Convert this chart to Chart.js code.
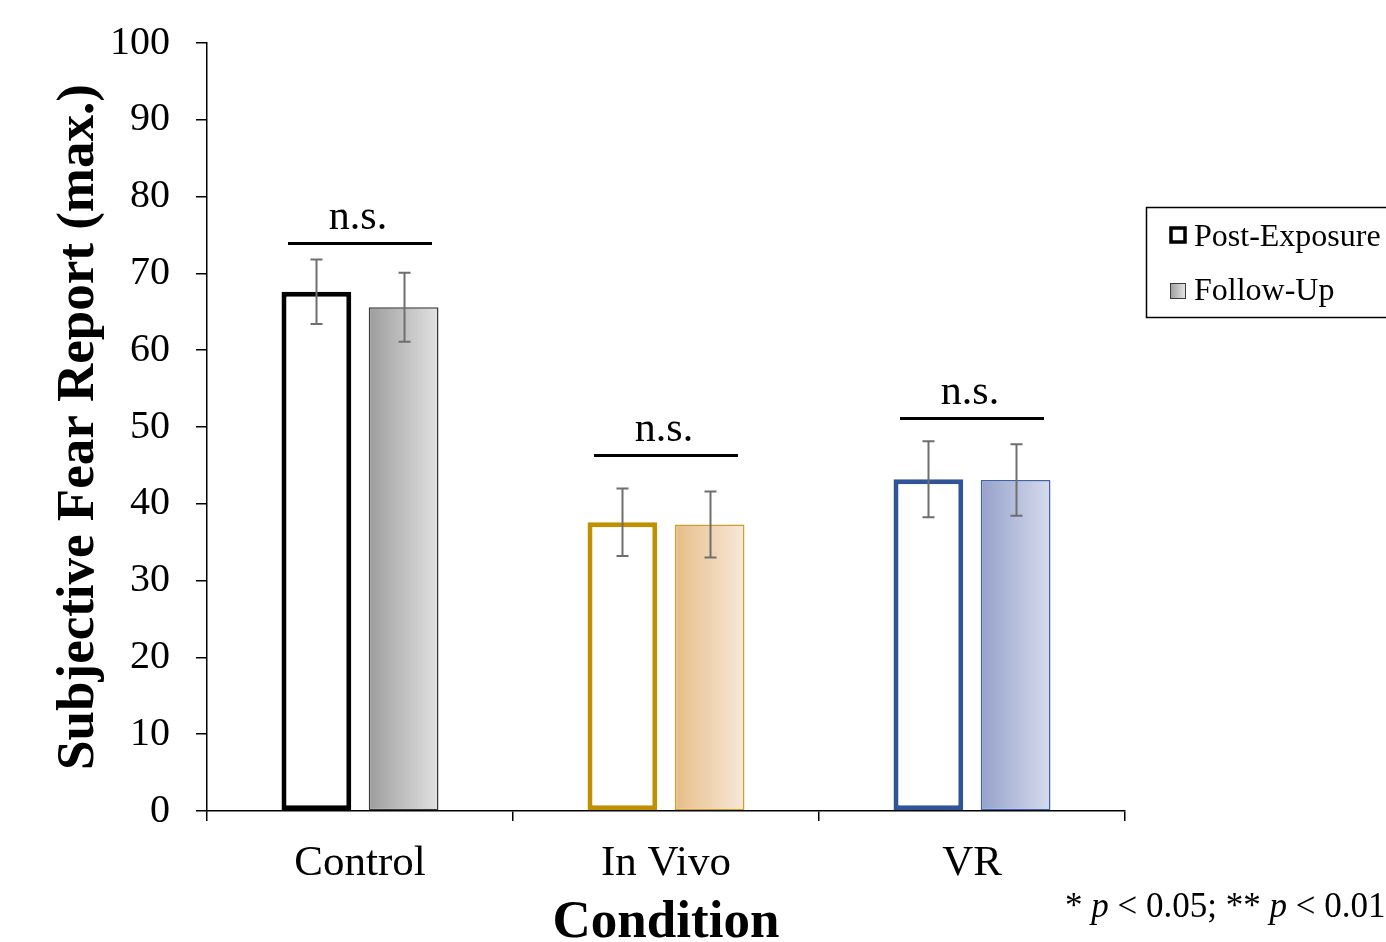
<!DOCTYPE html>
<html>
<head>
<meta charset="utf-8">
<script src="https://cdn.jsdelivr.net/npm/chart.js@4.4.1/dist/chart.umd.min.js"></script>
<style>
  html, body { margin: 0; padding: 0; background: #ffffff; }
  #wrap { width: 1386px; height: 942px; position: relative; }
</style>
</head>
<body>
<div id="wrap"><canvas id="c" width="1386" height="942"></canvas></div>
<script>
// Conditions and series
const categories = ['Control', 'In Vivo', 'VR'];
const seriesNames = ['Post-Exposure', 'Follow-Up'];
const postExposure = [67.6, 37.6, 43.2];
const followUp = [65.6, 37.3, 43.1];
// Standard errors (half-length of each whisker)
const postErr = [4.2, 4.4, 4.95];
const followErr = [4.5, 4.3, 4.65];
// Height of the significance bracket above each pair, and its label
const bracketLevel = [74.0, 46.4, 51.2];
const bracketText = ['n.s.', 'n.s.', 'n.s.'];
const yTicks = [0, 10, 20, 30, 40, 50, 60, 70, 80, 90, 100];

const SERIF = '"Liberation Serif", "Times New Roman", serif';
const lineColors = ['#000000', '#bf9000', '#2f5597'];
const followBorders = ['#3a3a3a', '#c9a030', '#3f63a6'];
const gradStops = [
  ['#9d9d9d', '#e2e2e2'],
  ['#e7bd88', '#f7e8d9'],
  ['#95a1cb', '#d6dbec']
];
const CAT_PCT = 0.57, BAR_PCT = 0.8;

function followFill(ctx) {
  const i = ctx.dataIndex;
  const chart = ctx.chart;
  if (i === undefined || !chart.chartArea) return gradStops[0][0];
  const x = chart.scales.x;
  const c = x.getPixelForValue(i);
  const slot = x.width / categories.length * CAT_PCT / 2;
  const x0 = c + slot * (1 - BAR_PCT) / 2;
  const x1 = c + slot * (1 + BAR_PCT) / 2;
  const g = chart.ctx.createLinearGradient(x0, 0, x1, 0);
  g.addColorStop(0, gradStops[i][0]);
  g.addColorStop(1, gradStops[i][1]);
  return g;
}

// Whiskers, brackets, legend and titles
const annotations = {
  id: 'annotations',
  afterDatasetsDraw(chart) {
    const ctx = chart.ctx;
    const ys = chart.scales.y;
    const errs = [postErr, followErr];
    const vals = [postExposure, followUp];
    ctx.save();
    // error bars
    ctx.strokeStyle = '#6e6e6e';
    ctx.lineWidth = 2;
    for (let d = 0; d < 2; d++) {
      const meta = chart.getDatasetMeta(d);
      meta.data.forEach((bar, i) => {
        const x = Math.round(bar.x) + 0.5;
        const hi = ys.getPixelForValue(vals[d][i] + errs[d][i]);
        const lo = ys.getPixelForValue(vals[d][i] - errs[d][i]);
        ctx.beginPath();
        ctx.moveTo(x, hi); ctx.lineTo(x, lo);
        ctx.moveTo(x - 6, hi); ctx.lineTo(x + 6, hi);
        ctx.moveTo(x - 6, lo); ctx.lineTo(x + 6, lo);
        ctx.stroke();
      });
    }
    // significance brackets
    ctx.strokeStyle = '#000';
    ctx.fillStyle = '#000';
    ctx.lineWidth = 3;
    ctx.font = '42px ' + SERIF;
    ctx.textAlign = 'center';
    ctx.textBaseline = 'alphabetic';
    categories.forEach((cat, i) => {
      const m0 = chart.getDatasetMeta(0).data[i];
      const m1 = chart.getDatasetMeta(1).data[i];
      const c = (m0.x + m1.x) / 2;
      const y = Math.round(ys.getPixelForValue(bracketLevel[i])) + 0.5;
      ctx.beginPath();
      ctx.moveTo(c - 72, y); ctx.lineTo(c + 72, y);
      ctx.stroke();
      ctx.fillText(bracketText[i], c - 2, y - 15);
    });
    ctx.restore();
  },
  afterDraw(chart) {
    const ctx = chart.ctx;
    const area = chart.chartArea;
    ctx.save();
    ctx.fillStyle = '#000';
    // axis titles
    ctx.font = 'bold 53px ' + SERIF;
    ctx.textAlign = 'center';
    ctx.textBaseline = 'alphabetic';
    ctx.fillText('Condition', (area.left + area.right) / 2, 937);
    ctx.save();
    ctx.translate(93, (area.top + area.bottom) / 2);
    ctx.rotate(-Math.PI / 2);
    ctx.fillText('Subjective Fear Report (max.)', 0, 0);
    ctx.restore();

    // legend box
    ctx.strokeStyle = '#000';
    ctx.lineWidth = 1.5;
    ctx.strokeRect(1146.5, 207.5, 260, 110);
    // post-exposure marker
    ctx.fillStyle = '#fff';
    ctx.fillRect(1170, 227, 16, 16);
    ctx.lineWidth = 3.5;
    ctx.strokeRect(1171, 228, 14, 14);
    // follow-up marker
    const g = ctx.createLinearGradient(1170, 0, 1185, 0);
    g.addColorStop(0, gradStops[0][0]);
    g.addColorStop(1, gradStops[0][1]);
    ctx.fillStyle = g;
    ctx.fillRect(1170, 283, 15, 15);
    ctx.lineWidth = 1;
    ctx.strokeStyle = '#3a3a3a';
    ctx.strokeRect(1170.5, 283.5, 15, 15);
    ctx.fillStyle = '#000';
    ctx.font = '32px ' + SERIF;
    ctx.textAlign = 'left';
    ctx.fillText(seriesNames[0], 1194, 246);
    ctx.fillText(seriesNames[1], 1194, 300);

    // significance footnote
    const parts = [
      ['* ', false], ['p', true], [' < 0.05; ** ', false], ['p', true], [' < 0.01', false]
    ];
    let x = 1065;
    parts.forEach(([t, it]) => {
      ctx.font = (it ? 'italic ' : '') + '35px ' + SERIF;
      ctx.fillText(t, x, 917);
      x += ctx.measureText(t).width;
    });
    ctx.restore();
  }
};

new Chart(document.getElementById('c'), {
  type: 'bar',
  data: {
    labels: categories,
    datasets: [
      {
        label: seriesNames[0],
        data: postExposure,
        backgroundColor: '#ffffff',
        borderColor: lineColors,
        borderWidth: 5,
        borderSkipped: false,
        categoryPercentage: CAT_PCT,
        barPercentage: BAR_PCT
      },
      {
        label: seriesNames[1],
        data: followUp,
        backgroundColor: followFill,
        borderColor: followBorders,
        borderWidth: 1.5,
        borderSkipped: false,
        categoryPercentage: CAT_PCT,
        barPercentage: BAR_PCT
      }
    ]
  },
  options: {
    responsive: false,
    animation: false,
    events: [],
    layout: { padding: { top: 43, right: 261, left: 0, bottom: 0 } },
    plugins: { legend: { display: false }, tooltip: { enabled: false } },
    scales: {
      x: {
        afterFit(scale) { scale.height = 131; scale.paddingLeft = 0; scale.paddingRight = 0; },
        grid: { drawOnChartArea: false, drawTicks: true, tickLength: 10, color: '#000', lineWidth: 1.5, offset: true },
        border: { display: true, color: '#000', width: 1.5 },
        ticks: { color: '#000', font: { family: SERIF, size: 43 }, padding: 17 }
      },
      y: {
        min: 0,
        max: 100,
        afterFit(scale) { scale.width = 207; scale.paddingTop = 0; scale.paddingBottom = 0; },
        afterBuildTicks(scale) { scale.ticks = yTicks.map(v => ({ value: v })); },
        grid: { drawOnChartArea: false, drawTicks: true, tickLength: 11, color: '#000', lineWidth: 1.5 },
        border: { display: true, color: '#000', width: 1.5 },
        ticks: { color: '#000', font: { family: SERIF, size: 40 }, padding: 26 }
      }
    }
  },
  plugins: [annotations]
});
</script>
</body>
</html>
